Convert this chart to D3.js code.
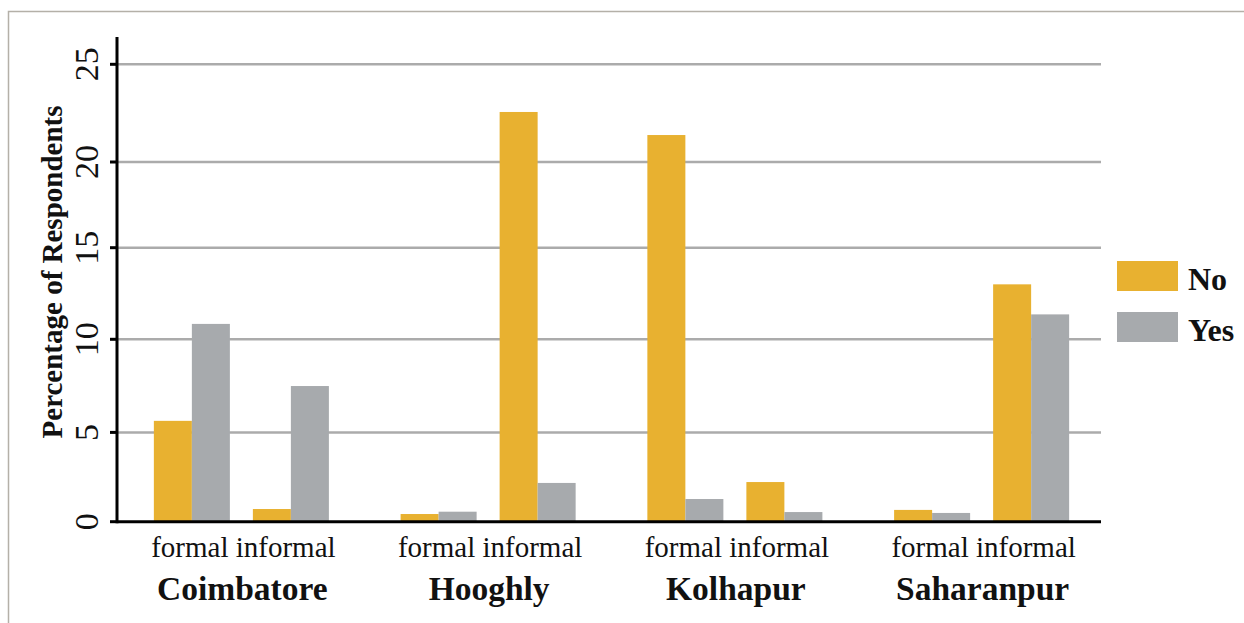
<!DOCTYPE html>
<html>
<head>
<meta charset="utf-8">
<script src="https://cdn.jsdelivr.net/npm/d3@7"></script>
<style>
  html, body { margin: 0; padding: 0; background: #fff; }
  svg { display: block; font-family: "Liberation Serif", "Times New Roman", serif; }
</style>
</head>
<body>
<svg id="chart" width="1244" height="623"></svg>
<script>
// ---- data ----
const cities = ["Coimbatore", "Hooghly", "Kolhapur", "Saharanpur"];
const types = ["formal", "informal"];
const seriesNames = ["No", "Yes"];
// order: city by city, formal then informal
const noValues  = [5.62, 0.71, 0.43, 22.56, 21.38, 2.22, 0.66, 13.0];
const yesValues = [10.84, 7.49, 0.56, 2.17, 1.27, 0.54, 0.49, 11.36];
const yTicks = [0, 5, 10, 15, 20, 25];
const yAxisMax = 26.4;
const yTitle = "Percentage of Respondents";

const colors = { No: "#E8B130", Yes: "#A7AAAD" };

// ---- build rows ----
const rows = [];
cities.forEach((c, ci) => types.forEach((t, ti) => {
  const i = ci * types.length + ti;
  rows.push({ city: c, type: t, No: noValues[i], Yes: yesValues[i] });
}));

const svg = d3.select("#chart");

// frame
svg.append("path")
  .attr("d", "M8.5,623 L8.5,11.5 L1244,11.5")
  .attr("fill", "none").attr("stroke", "#b4b0a8").attr("stroke-width", 1.5);

// ---- scales ----
const plotLeft = 117, plotRight = 1101;
// polylinear scale following the reference's tick positions
const y = d3.scaleLinear().domain(yTicks).range([521.7, 432.4, 339.3, 247.7, 162.0, 64.3]);

const x0 = d3.scaleBand().domain(cities).range([118, 1105]).paddingInner(0).paddingOuter(0);
const x1 = d3.scaleBand().domain(types).range([0, x0.bandwidth()]).paddingInner(0).paddingOuter(0.246);
const x2 = d3.scaleBand().domain(seriesNames).range([0, x1.bandwidth()]).paddingInner(0).paddingOuter(0.3026);

// gridlines
svg.append("g").selectAll("line")
  .data(yTicks.filter(d => d > 0))
  .join("line")
  .attr("x1", plotLeft).attr("x2", plotRight)
  .attr("y1", d => y(d)).attr("y2", d => y(d))
  .attr("stroke", "#ababab").attr("stroke-width", 2.5);

// bars
const groups = svg.append("g").selectAll("g")
  .data(rows)
  .join("g")
  .attr("transform", d => `translate(${x0(d.city) + x1(d.type)},0)`);

groups.selectAll("rect")
  .data(d => seriesNames.map(s => ({ s, v: d[s] })))
  .join("rect")
  .attr("x", d => x2(d.s))
  .attr("width", x2.bandwidth())
  .attr("y", d => y(d.v))
  .attr("height", d => y(0) - y(d.v))
  .attr("fill", d => colors[d.s]);

// y axis line and ticks
svg.append("line")
  .attr("x1", plotLeft).attr("x2", plotLeft)
  .attr("y1", y(yAxisMax)).attr("y2", y(0) + 1.5)
  .attr("stroke", "#000").attr("stroke-width", 3);
svg.append("line")
  .attr("x1", plotLeft).attr("x2", plotRight)
  .attr("y1", y(0)).attr("y2", y(0))
  .attr("stroke", "#000").attr("stroke-width", 3);
svg.append("g").selectAll("line")
  .data(yTicks)
  .join("line")
  .attr("x1", plotLeft - 7).attr("x2", plotLeft)
  .attr("y1", d => y(d)).attr("y2", d => y(d))
  .attr("stroke", "#000").attr("stroke-width", 3);

// y tick labels (rotated)
svg.append("g").selectAll("text")
  .data(yTicks)
  .join("text")
  .attr("transform", d => `translate(98,${y(d)}) rotate(-90)`)
  .attr("text-anchor", "middle")
  .attr("font-size", 34)
  .attr("fill", "#111")
  .text(d => d);

// y title
svg.append("text")
  .attr("transform", `translate(62,272) rotate(-90)`)
  .attr("text-anchor", "middle")
  .attr("font-size", 29)
  .attr("font-weight", "bold")
  .attr("fill", "#111")
  .text(yTitle);

// sub-category labels (one line per city: "formal informal")
svg.append("g").selectAll("text")
  .data(cities)
  .join("text")
  .attr("x", d => x0(d) + x0.bandwidth() / 2 + 2)
  .attr("y", 557)
  .attr("text-anchor", "middle")
  .attr("font-size", 29)
  .attr("fill", "#111")
  .text(types.join(" "));

// city labels
svg.append("g").selectAll("text")
  .data(cities)
  .join("text")
  .attr("x", d => x0(d) + x0.bandwidth() / 2 + 1)
  .attr("y", 600)
  .attr("text-anchor", "middle")
  .attr("font-size", 33.5)
  .attr("font-weight", "bold")
  .attr("fill", "#111")
  .text(d => d);

// legend
const legend = svg.append("g").selectAll("g")
  .data(seriesNames)
  .join("g")
  .attr("transform", (d, i) => `translate(1117,${261 + i * 51})`);
legend.append("rect")
  .attr("width", 61).attr("height", 30)
  .attr("fill", d => colors[d]);
legend.append("text")
  .attr("x", 71).attr("y", 29)
  .attr("font-size", 32)
  .attr("font-weight", "bold")
  .attr("fill", "#111")
  .text(d => d);
</script>
</body>
</html>
